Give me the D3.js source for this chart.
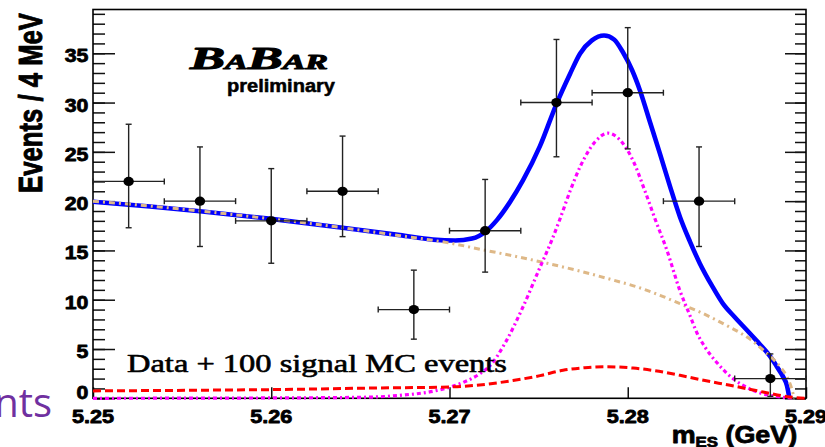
<!DOCTYPE html>
<html>
<head>
<meta charset="utf-8">
<script src="https://cdn.jsdelivr.net/npm/d3@7"></script>
<style>
  html, body { margin: 0; padding: 0; background: #fff; }
  svg { display: block; }
</style>
</head>
<body>
<svg id="chart" width="825" height="447"></svg>
<script>
// ---- m_ES histogram: bin centres (GeV), counts and asymmetric error limits ----
const binCenters = [5.252, 5.256, 5.260, 5.264, 5.268, 5.272, 5.276, 5.280, 5.284, 5.288];
const binHalfWidth = 0.002;
const counts   = [22, 20, 18, 21, 9, 17, 30, 31, 20, 2];
const errLower = [17.3, 15.4, 13.7, 16.4, 6.0, 12.8, 24.5, 25.3, 15.4, 0.2];
const errUpper = [27.8, 25.5, 23.3, 26.6, 13.0, 22.2, 36.4, 37.6, 25.5, 4.5];

// ---- axis ticks ----
const xTicks = [5.25, 5.26, 5.27, 5.28, 5.29];
const yTicks = [0, 5, 10, 15, 20, 25, 30, 35];
const yMinorTicks = d3.range(0, 40, 1);

// ---- fit components, sampled as [mES, events / 4 MeV] ----
const totalFit = [
  [5.2500, 19.93], [5.2532, 19.45], [5.2560, 18.97], [5.2600, 18.20], [5.2640, 17.30],
  [5.26722, 16.55], [5.26907, 16.10], [5.27031, 16.00], [5.27126, 16.20], [5.27205, 16.95],
  [5.27267, 18.10], [5.27339, 19.90], [5.27412, 22.10], [5.27508, 25.60], [5.27601, 29.90],
  [5.27676, 32.90], [5.27732, 34.96], [5.27799, 36.30], [5.27867, 36.80], [5.27923, 36.40],
  [5.27973, 35.10], [5.28024, 33.30], [5.28069, 31.20], [5.28125, 28.00], [5.28181, 24.80],
  [5.28237, 21.50], [5.28293, 18.40], [5.28349, 15.90], [5.28405, 13.66], [5.28473, 11.40],
  [5.28534, 9.60], [5.28602, 8.20], [5.28669, 6.90], [5.28725, 5.80], [5.28770, 4.90],
  [5.28809, 4.00], [5.28837, 3.20], [5.28871, 2.20], [5.28893, 1.30], [5.28907, 0.00]
];
const combBkg = [
  [5.2500, 20.00], [5.2532, 19.50], [5.2560, 19.00], [5.2600, 18.20], [5.2640, 17.30],
  [5.26722, 16.50], [5.2700, 15.75], [5.27205, 15.00], [5.27396, 14.30], [5.27547, 13.70],
  [5.27732, 12.90], [5.27917, 12.00], [5.28052, 11.30], [5.28181, 10.45], [5.28293, 9.60],
  [5.28405, 8.75], [5.28501, 7.90], [5.28574, 7.20], [5.28630, 6.65], [5.28686, 6.00],
  [5.28753, 5.00], [5.28815, 4.00], [5.28860, 3.10], [5.28893, 2.20], [5.28916, 1.20],
  [5.28927, 0.50], [5.28935, 0.00]
];
const signalPdf = [
  [5.2500, 0.00], [5.26161, 0.05], [5.26554, 0.12], [5.26722, 0.30], [5.26930, 0.80],
  [5.27076, 1.60], [5.27171, 2.50], [5.27227, 3.30], [5.27321, 5.90], [5.27412, 9.26],
  [5.27508, 13.30], [5.27573, 16.00], [5.27620, 18.20], [5.27676, 21.00], [5.27732, 23.46],
  [5.27816, 26.00], [5.27888, 26.90], [5.27957, 26.20], [5.28030, 24.10], [5.28097, 21.00],
  [5.28153, 18.20], [5.28220, 15.00], [5.28293, 10.90], [5.28349, 8.40], [5.28389, 6.60],
  [5.28433, 5.20], [5.28501, 3.60], [5.28590, 2.00], [5.28658, 1.20], [5.28725, 0.64],
  [5.28798, 0.30], [5.28854, 0.13], [5.28922, 0.03]
];
const peakingBkg = [
  [5.2500, 0.75], [5.2560, 0.82], [5.25993, 0.88], [5.2661, 1.05], [5.2700, 1.15],
  [5.27356, 1.80], [5.27508, 2.30], [5.27637, 2.84], [5.27760, 3.10], [5.27884, 3.20],
  [5.28030, 3.07], [5.28153, 2.80], [5.28293, 2.33], [5.28433, 1.80], [5.28574, 1.32],
  [5.28759, 0.64], [5.28911, 0.13], [5.2900, 0.00]
];

// ---- layout ----
const svg = d3.select("#chart");
const plot = { left: 93, right: 806, top: 9.5, bottom: 398.3 };
const x = d3.scaleLinear().domain([5.25, 5.29]).range([plot.left, plot.right]);
const y = d3.scaleLinear().domain([0, 39.44]).range([plot.bottom, plot.top]);

svg.append("rect").attr("width", 825).attr("height", 447).attr("fill", "#fff");

const sansBold = "'Liberation Sans', Arial, Helvetica, sans-serif";
const serif = "'Liberation Serif', 'Times New Roman', serif";

// heavy sans text: bold face plus a thin outline of the same colour
function heavy(sel, size, sw) {
  return sel.attr("font-family", sansBold).attr("font-weight", "bold")
    .attr("font-size", size).attr("fill", "#000")
    .attr("stroke", "#000").attr("stroke-width", sw).attr("stroke-linejoin", "round");
}

// ---- tick marks on all sides of the frame ----
function tickAxis(gen, tx, ty) {
  const g = svg.append("g").attr("transform", `translate(${tx},${ty})`).call(gen);
  g.select(".domain").remove();
  g.selectAll("line").attr("stroke", "#111").attr("stroke-width", 1.5);
  g.selectAll("text").remove();
  return g;
}
tickAxis(d3.axisRight(y).tickValues(yMinorTicks).tickSize(12).tickFormat(""), plot.left, 0);
tickAxis(d3.axisRight(y).tickValues(yTicks).tickSize(22).tickFormat(""), plot.left, 0);
tickAxis(d3.axisLeft(y).tickValues(yMinorTicks).tickSize(11).tickFormat(""), plot.right, 0);
tickAxis(d3.axisLeft(y).tickValues(yTicks).tickSize(21).tickFormat(""), plot.right, 0);
tickAxis(d3.axisTop(x).tickValues(xTicks).tickSize(11).tickFormat(""), 0, plot.bottom);

// frame
svg.append("rect")
  .attr("x", plot.left).attr("y", plot.top)
  .attr("width", plot.right - plot.left).attr("height", plot.bottom - plot.top)
  .attr("fill", "none").attr("stroke", "#000").attr("stroke-width", 1.6);

// ---- tick labels ----
heavy(svg.append("g").selectAll("text").data(yTicks).join("text"), 18.5, 0.8)
  .attr("transform", d => `translate(88.3,${d === 0 ? y(d) + 0.8 : y(d) + 9}) scale(1.15,1)`)
  .attr("text-anchor", "end")
  .text(d => d);

heavy(svg.append("g").selectAll("text").data(xTicks).join("text"), 18.5, 0.8)
  .attr("transform", d => `translate(${x(d)},422.5) scale(1.17,1)`)
  .attr("text-anchor", "middle")
  .text(d => d3.format(".2f")(d));

// ---- axis titles ----
heavy(svg.append("text"), 28, 0.8)
  .attr("transform", "translate(41.8,103) scale(1.2,1) rotate(-90)")
  .attr("text-anchor", "middle")
  .attr("textLength", 180).attr("lengthAdjust", "spacingAndGlyphs")
  .text("Events / 4 MeV");

const xTitle = heavy(svg.append("text"), 24, 0.8)
  .attr("transform", "translate(671.7,442.5) scale(1.12,1)");
xTitle.append("tspan").text("m");
xTitle.append("tspan").attr("font-size", 15).attr("dy", 4.5).text("ES");
xTitle.append("tspan").attr("dy", -4.5).text(" (GeV)");

// ---- fit curves ----
const line = d3.line().x(d => x(d[0])).y(d => y(Math.max(0, d[1]))).curve(d3.curveMonotoneX);
const curves = svg.append("g").attr("fill", "none");
curves.append("path").datum(totalFit).attr("d", line)
  .attr("stroke", "#0000ff").attr("stroke-width", 4.6);
curves.append("path").datum(combBkg).attr("d", line)
  .attr("stroke", "#deb887").attr("stroke-width", 3).attr("stroke-dasharray", "6,4,2,4");
curves.append("path").datum(signalPdf).attr("d", line)
  .attr("stroke", "#ff00ff").attr("stroke-width", 3.2).attr("stroke-dasharray", "4,3,2,3");
curves.append("path").datum(peakingBkg).attr("d", line)
  .attr("stroke", "#ff0000").attr("stroke-width", 3).attr("stroke-dasharray", "8,4");

// ---- data points with error bars ----
const pts = binCenters.map((c, i) => ({ c, n: counts[i], lo: errLower[i], hi: errUpper[i] }));
const dataG = svg.append("g").attr("stroke", "#222").attr("stroke-width", 1.4);
const cap = 3;
const bar = dataG.selectAll("g").data(pts).join("g");
bar.append("line")
  .attr("x1", d => x(d.c - binHalfWidth)).attr("x2", d => x(d.c + binHalfWidth))
  .attr("y1", d => y(d.n)).attr("y2", d => y(d.n));
bar.append("line")
  .attr("x1", d => x(d.c)).attr("x2", d => x(d.c))
  .attr("y1", d => y(d.lo)).attr("y2", d => y(d.hi));
// end caps
bar.append("line")
  .attr("x1", d => x(d.c - binHalfWidth)).attr("x2", d => x(d.c - binHalfWidth))
  .attr("y1", d => y(d.n) - cap).attr("y2", d => y(d.n) + cap);
bar.append("line")
  .attr("x1", d => x(d.c + binHalfWidth)).attr("x2", d => x(d.c + binHalfWidth))
  .attr("y1", d => y(d.n) - cap).attr("y2", d => y(d.n) + cap);
bar.append("line")
  .attr("x1", d => x(d.c) - cap).attr("x2", d => x(d.c) + cap)
  .attr("y1", d => y(d.hi)).attr("y2", d => y(d.hi));
bar.append("line")
  .attr("x1", d => x(d.c) - cap).attr("x2", d => x(d.c) + cap)
  .attr("y1", d => y(d.lo)).attr("y2", d => y(d.lo));
bar.append("ellipse")
  .attr("cx", d => x(d.c)).attr("cy", d => y(d.n))
  .attr("rx", 5.2).attr("ry", 4.6).attr("fill", "#000").attr("stroke", "none");

// ---- BaBar label ----
const logo = svg.append("text")
  .attr("x", 190).attr("y", 69)
  .attr("font-family", serif).attr("font-weight", "bold").attr("font-style", "italic")
  .attr("stroke", "#000").attr("stroke-width", 1).attr("stroke-linejoin", "round")
  .attr("textLength", 138).attr("lengthAdjust", "spacingAndGlyphs");
logo.append("tspan").attr("font-size", 31).text("B");
logo.append("tspan").attr("font-size", 20).text("A");
logo.append("tspan").attr("font-size", 31).text("B");
logo.append("tspan").attr("font-size", 20).text("AR");

heavy(svg.append("text"), 18, 0.5)
  .attr("x", 227).attr("y", 91.7)
  .attr("textLength", 108).attr("lengthAdjust", "spacingAndGlyphs")
  .text("preliminary");

// ---- sample description ----
svg.append("text")
  .attr("x", 127).attr("y", 371.6)
  .attr("font-family", serif).attr("font-size", 25.2)
  .attr("stroke", "#000").attr("stroke-width", 0.6).attr("stroke-linejoin", "round")
  .attr("textLength", 380).attr("lengthAdjust", "spacingAndGlyphs")
  .text("Data + 100 signal MC events");

// ---- slide caption fragment at the lower left ----
svg.append("text")
  .attr("x", 52).attr("y", 417)
  .attr("text-anchor", "end")
  .attr("font-family", "'Open Sans', 'Noto Sans', sans-serif")
  .attr("font-size", 40).attr("fill", "#7030a0")
  .text("nts");
</script>
</body>
</html>
